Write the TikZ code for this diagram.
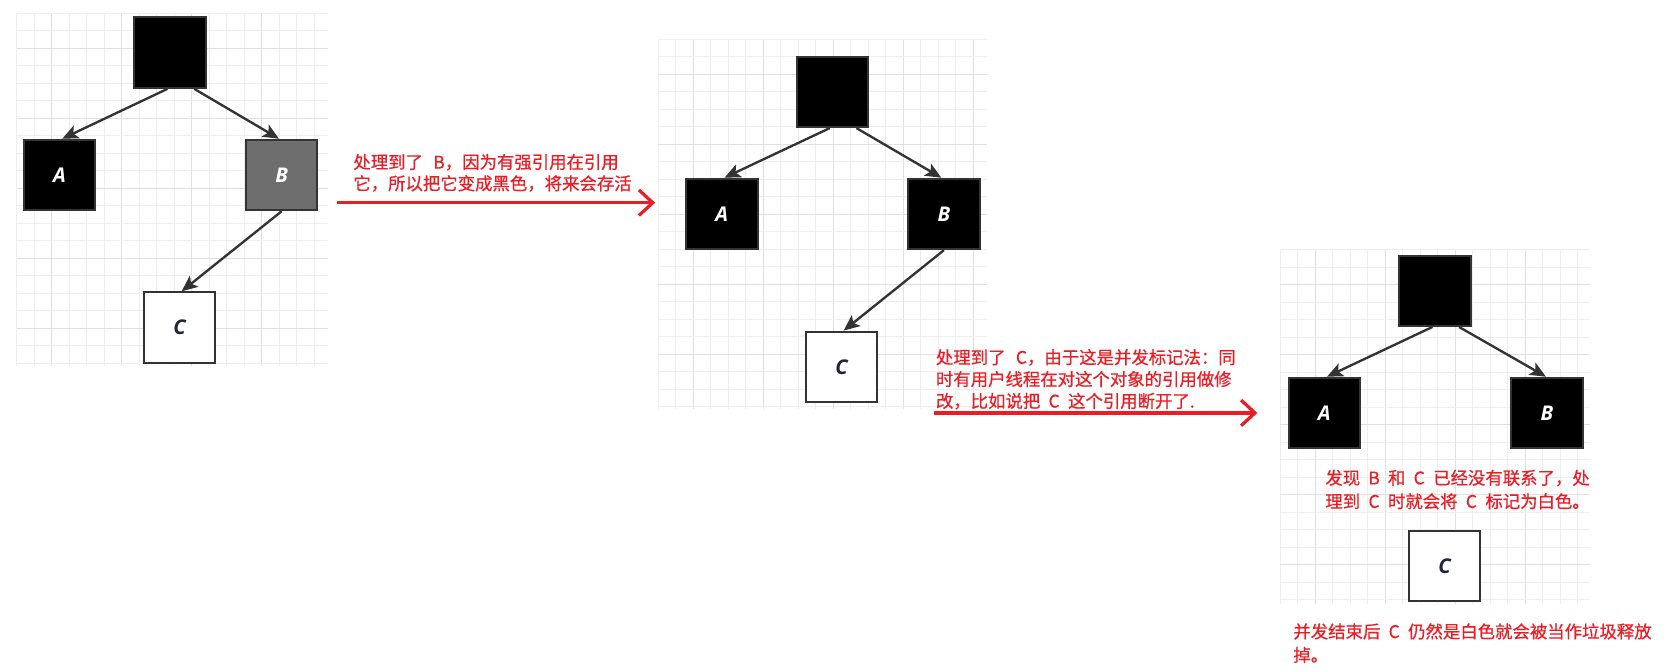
\documentclass[tikz,border=0pt]{standalone}
\usepackage{fontspec}
\newfontfamily\cjk{Noto Sans CJK SC}[FakeBold=0.6]
\newfontfamily\lblfont{Open Sans}
\usetikzlibrary{arrows.meta,calc}
\definecolor{edgegray}{HTML}{333333}
\definecolor{bgray}{HTML}{6E6E6E}
\definecolor{annot}{HTML}{EC1C24}
\definecolor{gminor}{HTML}{EEEEEE}
\definecolor{gmajor}{HTML}{E0E0E0}
\definecolor{cdark}{HTML}{22223A}
\newcommand{\lat}[1]{\makebox[1.6em]{#1}}
\newcommand{\latc}[1]{\hspace{0.6em}#1}
\newcommand{\panelgrid}[4]{%
  \pgfmathtruncatemacro{\gnx}{(#3-#1)/16.4}%
  \pgfmathtruncatemacro{\gny}{(#4-#2)/16.4}%
  \foreach \k in {0,...,\gnx}{%
    \pgfmathsetmacro{\gxx}{#1+\k*16.4}%
    \pgfmathtruncatemacro{\gmm}{mod(\k,4)}%
    \ifnum\gmm=2 \draw[gmajor,line width=1] (\gxx,#2)--(\gxx,#4);%
    \else \draw[gminor,line width=1] (\gxx,#2)--(\gxx,#4);\fi
  }%
  \foreach \k in {0,...,\gny}{%
    \pgfmathsetmacro{\gyy}{#2+\k*16.4}%
    \pgfmathtruncatemacro{\gmm}{mod(\k,4)}%
    \ifnum\gmm=2 \draw[gmajor,line width=1] (#1,\gyy)--(#3,\gyy);%
    \else \draw[gminor,line width=1] (#1,\gyy)--(#3,\gyy);\fi
  }%
}
\tikzset{
  obj/.style={draw=edgegray, line width=1.9, minimum width=67, minimum height=66,
    inner sep=0, font=\lblfont\bfseries\itshape\fontsize{19}{19}\selectfont},
  blackobj/.style={obj, fill=black, text=white},
  grayobj/.style={obj, fill=bgray, text=white},
  whiteobj/.style={obj, fill=white, text=cdark},
  refarrow/.style={draw=edgegray, line width=2.2, -{Stealth[length=15,width=13,inset=3.5]}},
  note/.style={text=annot, font=\cjk\fontsize{16.3}{20}\selectfont, anchor=base west, inner sep=0},
  redarrow/.style={draw=annot, line width=3, -{Straight Barb[length=13,width=24]}},
}
\begin{document}
\begin{tikzpicture}[x=1pt,y=-1pt]
\fill[white] (0,0) rectangle (1568,628);
\useasboundingbox (0,0) rectangle (1568,628);

% grids
\panelgrid{15.6}{12.5}{307}{343}
\panelgrid{617}{36.8}{925}{383}
\panelgrid{1200}{234}{1490}{566}

% panel 1
\node[blackobj] (r1) at (159.5,49.3) {};
\node[blackobj] (a1) at (55.8,164) {A};
\node[grayobj]  (b1) at (264,164) {B};
\node[whiteobj] (c1) at (168.2,307) {C};
\draw[refarrow] ($(r1.south)+(-2.5,0)$) -- ($(a1.north)+(2.5,0)$);
\draw[refarrow] ($(r1.south)+(22.5,0)$) -- ($(b1.north)+(-2.5,0)$);
\draw[refarrow] (b1.south) -- ($(c1.north)+(2,0)$);

% panel 2
\node[blackobj] (r2) at (780.2,86.1) {};
\node[blackobj] (a2) at (676.5,200.5) {A};
\node[blackobj] (b2) at (884.7,200.5) {B};
\node[whiteobj] (c2) at (788.7,343.8) {C};
\draw[refarrow] ($(r2.south)+(-2.5,0)$) -- ($(a2.north)+(2.5,0)$);
\draw[refarrow] ($(r2.south)+(22.5,0)$) -- ($(b2.north)+(-2.5,0)$);
\draw[refarrow] (b2.south) -- ($(c2.north)+(2,0)$);

% panel 3
\node[blackobj] (r3) at (1345,272.5) {};
\node[blackobj] (a3) at (1241.2,387) {A};
\node[blackobj] (b3) at (1449.9,387) {B};
\node[whiteobj] (c3) at (1353.9,530.6) {C};
\draw[refarrow] ($(r3.south)+(-2.5,0)$) -- ($(a3.north)+(2.5,0)$);
\draw[refarrow] ($(r3.south)+(22.5,0)$) -- ($(b3.north)+(-1,0)$);

% annotation 1
\node[note] (t1a) at (331,158) {处理到了\latc{B}，因为有强引用在引用};
\node[note] (t1b) at (331,178) {它，所以把它变成黑色，将来会存活};
\coordinate (s1) at (316,190);
\coordinate (e1) at (614,190);
\draw[redarrow] (s1) -- (e1);

% annotation 2
\node[note] (t2a) at (877,341) {处理到了\latc{C}，由于这是并发标记法：同};
\node[note] (t2b) at (877,361.5) {时有用户线程在对这个对象的引用做修};
\node[note] (t2c) at (877,382) {改，比如说把\lat{C}这个引用断开了.};
\coordinate (s2) at (875.4,387);
\coordinate (e2) at (1178.4,387);
\draw[redarrow] (s2) -- (e2);

% annotation 3
\node[note] (t3a) at (1242,454) {发现\lat{B}和\lat{C}已经没有联系了，处};
\node[note] (t3b) at (1242,476) {理到\lat{C}时就会将\lat{C}标记为白色。};

% annotation 4
\node[note] (t4a) at (1212,598) {并发结束后\lat{C}仍然是白色就会被当作垃圾释放};
\node[note] (t4b) at (1212,620) {掉。};
\end{tikzpicture}
\end{document}
